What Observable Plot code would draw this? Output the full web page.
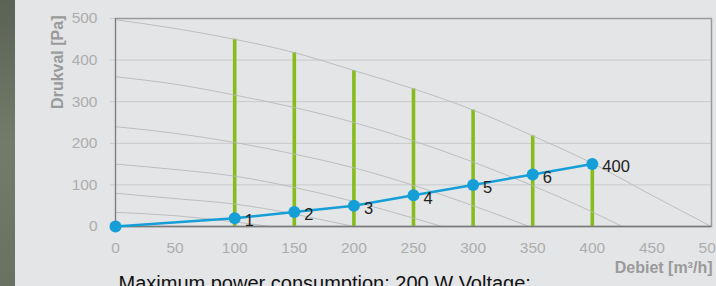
<!DOCTYPE html>
<html><head><meta charset="utf-8">
<script src="https://cdn.jsdelivr.net/npm/d3@7"></script>
<script src="https://cdn.jsdelivr.net/npm/@observablehq/plot@0.6"></script>
<style>
html,body{margin:0;padding:0;background:#e4e5e7;overflow:hidden;width:716px;height:286px}
#strip{position:absolute;left:0;top:0;width:15px;height:286px;background:linear-gradient(#5b6256,#737b6a 50%,#697162)}
#chart{position:absolute;left:0;top:0}
</style></head><body>
<div id="strip"></div><div id="chart"></div>
<script>
// Operating points (blue line)
const flow = [0, 100, 150, 200, 250, 300, 350, 400];
const pressure = [0, 20, 35, 50, 75, 100, 125, 150];
const pointLabels = ["", "1", "2", "3", "4", "5", "6", "400"];
// Green bars: max pressure at each flow
const barFlow = [100, 150, 200, 250, 300, 350, 400];
const barMax = [450, 418, 375, 331, 280, 218, 152];
// Gray fan curves [flow, pressure]
const fanCurveMax = [[0,497],[50,476],[100,450],[150,418],[200,375],[250,331],[300,280],[350,218],[400,152],[450,75],[500,0]];
const fanCurve2 = [[0,360],[50,342],[100,316],[150,286],[200,250],[250,206],[300,155],[350,98],[400,35],[425,0]];
const fanCurve3 = [[0,240],[50,224],[100,202],[150,174],[200,141],[250,99],[300,50],[347,0]];
const fanCurve4 = [[0,150],[50,137],[100,121],[150,94],[200,60],[250,20],[274,0]];
const fanCurve5 = [[0,80],[50,67],[100,54],[150,30],[175,15],[200,0]];
const fanCurve6 = [[0,34],[50,26],[100,11],[130,0]];
const xTicks = [0, 50, 100, 150, 200, 250, 300, 350, 400, 450, 500];
const yTicks = [0, 100, 200, 300, 400, 500];
const gridTicks = [100, 200, 300, 400];

const points = flow.map((q, i) => ({q, p: pressure[i], label: pointLabels[i]}));
const bars = barFlow.map((q, i) => ({q, p: barMax[i]}));
const curves = [fanCurveMax, fanCurve2, fanCurve3, fanCurve4, fanCurve5, fanCurve6]
  .flatMap((c, k) => c.map(([q, p]) => ({k, q, p})));

const chart = Plot.plot({
  width: 716, height: 286,
  marginLeft: 115, marginRight: 5, marginTop: 18, marginBottom: 60,
  x: {domain: [0, 500]},
  y: {domain: [0, 500]},
  style: {background: "transparent", fontFamily: "'Liberation Sans', Arial, sans-serif", fontSize: "15.5px"},
  marks: [
    Plot.ruleY(gridTicks, {stroke: "#c9c9c9", strokeWidth: 1}),
    Plot.axisY({ticks: yTicks, tickSize: 5, tickPadding: 13, stroke: "#c9c9c9", fill: "#adadad", label: null}),
    Plot.axisX({ticks: xTicks, tickSize: 0, tickPadding: 15, fill: "#adadad", label: null}),
    Plot.ruleX(bars, {x: "q", y1: 0, y2: "p", stroke: "#86bd1c", strokeWidth: 3.6}),
    Plot.line(curves, {x: "q", y: "p", z: "k", stroke: "#b9b9b9", strokeWidth: 1, strokeOpacity: 0.9, curve: "monotone-x"}),
    Plot.frame({stroke: "#9a9a9a", strokeWidth: 1.5}),
    Plot.ruleX([0], {stroke: "#7c7c7c", strokeWidth: 1}),
    Plot.ruleY([0], {stroke: "#7c7c7c", strokeWidth: 1.5}),
    Plot.line(points, {x: "q", y: "p", stroke: "#159fd6", strokeWidth: 2.5}),
    Plot.dot(points, {x: "q", y: "p", r: 6, fill: "#159fd6"}),
    Plot.text(points, {x: "q", y: "p", text: "label", dx: 10, dy: 3, textAnchor: "start", fontSize: 16.5, fill: "#222"}),
    Plot.text(["Drukval [Pa]"], {frameAnchor: "top-left", rotate: -90, textAnchor: "end", dx: -64, dy: -3, fontSize: 16, fontWeight: "bold", fill: "#9a9a9a"}),
    Plot.text(["Debiet [m³/h]"], {frameAnchor: "bottom-right", textAnchor: "end", dx: 1, dy: 46, fontSize: 16, fontWeight: "bold", fill: "#9a9a9a"}),
    Plot.text(["Maximum power consumption: 200 W Voltage:"], {frameAnchor: "bottom-left", textAnchor: "start", dx: 3, dy: 63, fontSize: 20, fill: "#111"})
  ]
});
document.getElementById("chart").appendChild(chart);
</script>
</body></html>
